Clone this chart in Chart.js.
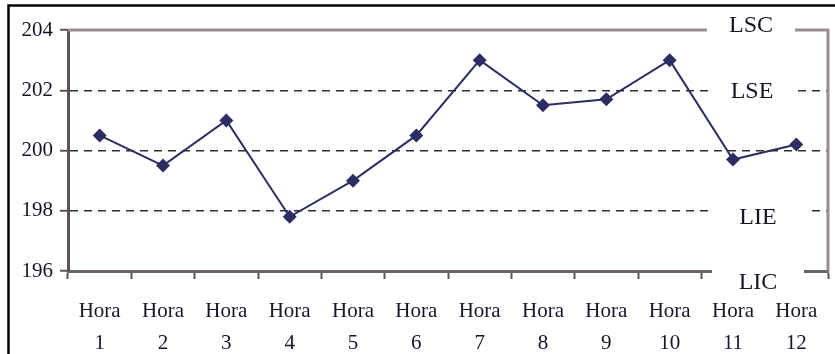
<!DOCTYPE html>
<html>
<head>
<meta charset="utf-8">
<script src="https://cdn.jsdelivr.net/npm/chart.js@4.4.1/dist/chart.umd.min.js"></script>
<style>
  html, body { margin: 0; padding: 0; background: #ffffff; }
  #wrap { width: 835px; height: 354px; }
</style>
</head>
<body>
<div id="wrap"><canvas id="c" width="835" height="354"></canvas></div>
<script>
// Hourly measurements for the control chart
const hourNumbers = ['1', '2', '3', '4', '5', '6', '7', '8', '9', '10', '11', '12'];
const hourWord = 'Hora';
const measurements = [200.5, 199.5, 201, 197.8, 199, 200.5, 203, 201.5, 201.7, 203, 199.7, 200.2];

// Control and specification limits
const limitNames = ['LSC', 'LSE', 'LIE', 'LIC'];
const limitValues = [204, 202, 198, 196];
const dashedLimits = [202, 200, 198];

// Value axis
const yMin = 196;
const yMax = 204;
const yStep = 2;

const categories = hourNumbers.map(n => [hourWord, n]);

const SERIF = '"Liberation Serif", "DejaVu Serif", serif';
const TEXT = '#15152a';

// Outer frame on the left and top of the figure
const framePlugin = {
  id: 'frame',
  beforeDraw(chart) {
    const ctx = chart.ctx;
    ctx.save();
    ctx.strokeStyle = '#000000';
    ctx.lineWidth = 2.5;
    ctx.beginPath();
    ctx.moveTo(8.5, chart.height);
    ctx.lineTo(8.5, 5.5);
    ctx.lineTo(chart.width, 5.5);
    ctx.stroke();
    ctx.restore();
  }
};

// Top and right sides of the plot box, then the limit labels on white patches
const limitPlugin = {
  id: 'limits',
  beforeDatasetsDraw(chart) {
    const ctx = chart.ctx;
    const a = chart.chartArea;
    const y = chart.scales.y;
    ctx.save();
    ctx.strokeStyle = '#978d8d';
    ctx.lineWidth = 3;
    ctx.beginPath();
    ctx.moveTo(a.left, a.top);
    ctx.lineTo(a.right, a.top);
    ctx.lineTo(a.right, a.bottom);
    ctx.stroke();

    const shift = { LSC: -5, LSE: 0, LIE: 6, LIC: 11 };
    const cx = { LSC: 751, LSE: 752, LIE: 758, LIC: 758 };
    const halfW = { LSC: 44, LSE: 44, LIE: 50, LIC: 46 };
    ctx.font = '24px ' + SERIF;
    ctx.textAlign = 'center';
    ctx.textBaseline = 'middle';
    limitNames.forEach((name, i) => {
      const py = y.getPixelForValue(limitValues[i]) + shift[name];
      const x = cx[name];
      ctx.fillStyle = '#ffffff';
      ctx.fillRect(x - halfW[name], py - 12, halfW[name] * 2, 24);
      ctx.fillStyle = TEXT;
      ctx.fillText(name, x, py + 1);
    });
    ctx.restore();
  }
};

new Chart(document.getElementById('c'), {
  type: 'line',
  data: {
    labels: categories,
    datasets: [{
      data: measurements,
      borderColor: '#2c2e63',
      backgroundColor: '#2c2e63',
      borderWidth: 2,
      tension: 0,
      pointStyle: 'rectRot',
      pointRadius: 7,
      pointHoverRadius: 7,
      pointBorderWidth: 0,
      clip: false
    }]
  },
  options: {
    responsive: false,
    animation: false,
    devicePixelRatio: 1,
    layout: { padding: { top: 30, right: 3, left: 0, bottom: 0 } },
    plugins: {
      legend: { display: false },
      tooltip: { enabled: false },
      title: { display: false }
    },
    scales: {
      x: {
        type: 'category',
        offset: true,
        grid: {
          offset: true,
          drawOnChartArea: false,
          drawTicks: true,
          tickLength: 8,
          tickColor: '#5d5555',
          tickWidth: 2
        },
        border: { display: true, color: '#6c6464', width: 3 },
        ticks: {
          color: TEXT,
          font: { family: SERIF, size: 21, lineHeight: 1.5 },
          padding: 17,
          maxRotation: 0,
          autoSkip: false
        },
        afterFit(s) { s.height = 83; }
      },
      y: {
        min: yMin,
        max: yMax,
        grid: {
          drawOnChartArea: true,
          color: ctx => dashedLimits.includes(ctx.tick && ctx.tick.value) ? '#2e2e2e' : 'rgba(0,0,0,0)',
          lineWidth: 1.5,
          tickLength: 8,
          tickColor: '#5d5555',
          tickWidth: 2,
          tickBorderDash: []
        },
        border: { display: true, color: '#5d5454', width: 3, dash: [8, 6] },
        ticks: {
          stepSize: yStep,
          color: TEXT,
          font: { family: SERIF, size: 21 },
          padding: 7
        },
        afterFit(s) { s.width = 68; }
      }
    }
  },
  plugins: [framePlugin, limitPlugin]
});
</script>
</body>
</html>
